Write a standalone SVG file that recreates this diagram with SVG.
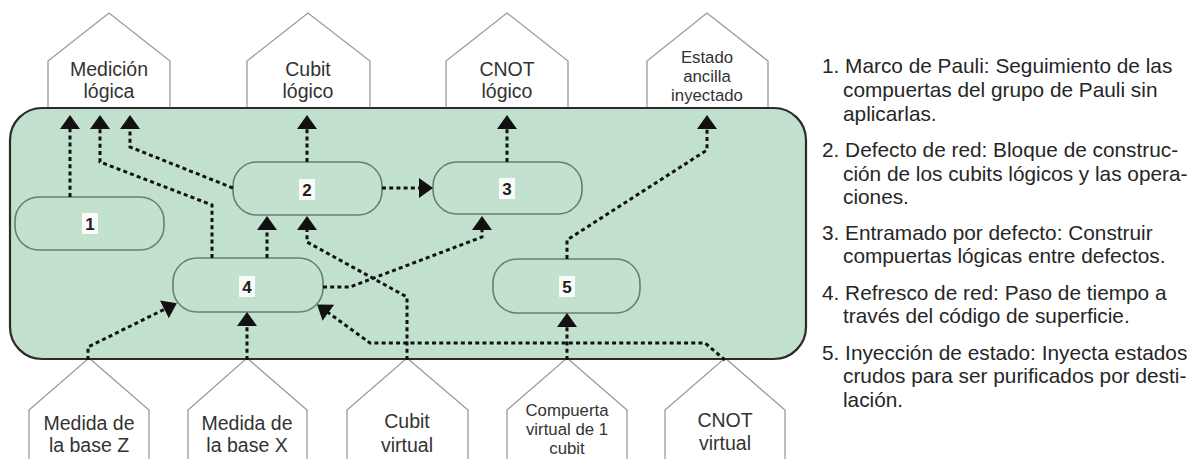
<svg xmlns="http://www.w3.org/2000/svg" width="1202" height="459" viewBox="0 0 1202 459">
<style>
.house{fill:#ffffff;stroke:#9a9a9a;stroke-width:1.3}
.ht{font-family:"Liberation Sans",Arial,sans-serif;font-size:19.5px;fill:#333;text-anchor:middle}
.ht3{font-family:"Liberation Sans",Arial,sans-serif;font-size:16.8px;fill:#333;text-anchor:middle}
.node{fill:#c3e1cf;stroke:#687f70;stroke-width:1.6}
.lbl{fill:#fbfbfb}
.num{font-family:"Liberation Sans",Arial,sans-serif;font-size:17px;font-weight:bold;fill:#222;text-anchor:middle}
.con{fill:none;stroke:#111;stroke-width:3;stroke-dasharray:4 3.2}
.leg{font-family:"Liberation Sans",Arial,sans-serif;font-size:20.8px;fill:#262626}
</style>
<defs>
<marker id="arr" viewBox="0 0 14 20" refX="3" refY="10" markerWidth="14" markerHeight="20" markerUnits="userSpaceOnUse" orient="auto">
<path d="M0,0 L14,10 L0,20 z" fill="#111"/>
</marker>
</defs>
<rect width="1202" height="459" fill="#ffffff"/>

<g id="out-medicion">
<polygon class="house" points="48,112 48,61 109,13 170,61 170,112"/>
<text class="ht" x="109" y="76">Medición</text>
<text class="ht" x="109" y="98">lógica</text>
</g>
<g id="out-cubit">
<polygon class="house" points="247,112 247,61 308,13 370,61 370,112"/>
<text class="ht" x="308" y="76">Cubit</text>
<text class="ht" x="308" y="98">lógico</text>
</g>
<g id="out-cnot">
<polygon class="house" points="446,112 446,61 507,13 568,61 568,112"/>
<text class="ht" x="507" y="76">CNOT</text>
<text class="ht" x="507" y="98">lógico</text>
</g>
<g id="out-estado">
<polygon class="house" points="647,112 647,61 707,13 768,61 768,112"/>
<text class="ht3" x="707" y="63">Estado</text>
<text class="ht3" x="707" y="82">ancilla</text>
<text class="ht3" x="707" y="101">inyectado</text>
</g>

<g id="in-z">
<polygon class="house" points="89,358 149,410 149,462 29,462 29,410"/>
<text class="ht" x="89" y="430">Medida de</text>
<text class="ht" x="89" y="452">la base Z</text>
</g>
<g id="in-x">
<polygon class="house" points="247,358 307,410 307,462 188,462 188,410"/>
<text class="ht" x="247" y="430">Medida de</text>
<text class="ht" x="247" y="452">la base X</text>
</g>
<g id="in-cubit">
<polygon class="house" points="407,358 468,410 468,462 347,462 347,410"/>
<text class="ht" x="407" y="428">Cubit</text>
<text class="ht" x="407" y="452">virtual</text>
</g>
<g id="in-compuerta">
<polygon class="house" points="567,358 627,410 627,462 507,462 507,410"/>
<text class="ht3" x="567" y="416">Compuerta</text>
<text class="ht3" x="567" y="435">virtual de 1</text>
<text class="ht3" x="567" y="454">cubit</text>
</g>
<g id="in-cnot">
<polygon class="house" points="725,358 785,410 785,462 665,462 665,410"/>
<text class="ht" x="725" y="427">CNOT</text>
<text class="ht" x="725" y="450">virtual</text>
</g>

<g id="container">
<rect x="10" y="108" width="796" height="251" rx="32" ry="32" fill="#c1e0cd" stroke="#2b2b2b" stroke-width="2.2"/>
</g>

<g id="n1">
<rect class="node" x="15" y="197" width="149" height="53" rx="24"/>
<rect class="lbl" x="82" y="213" width="16" height="21"/>
<text class="num" x="90" y="230">1</text>
</g>
<g id="n2">
<rect class="node" x="233" y="162" width="149" height="53" rx="24"/>
<rect class="lbl" x="299" y="179" width="16" height="21"/>
<text class="num" x="307" y="196">2</text>
</g>
<g id="n3">
<rect class="node" x="433" y="162" width="149" height="52" rx="24"/>
<rect class="lbl" x="499" y="178" width="16" height="21"/>
<text class="num" x="507" y="195">3</text>
</g>
<g id="n4">
<rect class="node" x="173" y="258" width="150" height="54" rx="24"/>
<rect class="lbl" x="239" y="276" width="16" height="21"/>
<text class="num" x="247" y="293">4</text>
</g>
<g id="n5">
<rect class="node" x="493" y="259" width="147" height="54" rx="24"/>
<rect class="lbl" x="559" y="276" width="16" height="21"/>
<text class="num" x="567" y="293">5</text>
</g>

<g id="connectors">
<path class="con" marker-end="url(#arr)" d="M70,197 V126"/>
<path class="con" marker-end="url(#arr)" d="M212,258 V205 L100,162 V126"/>
<path class="con" marker-end="url(#arr)" d="M233,188 L130,147 V126"/>
<path class="con" marker-end="url(#arr)" d="M307,162 V126"/>
<path class="con" marker-end="url(#arr)" d="M507,162 V126"/>
<path class="con" marker-end="url(#arr)" d="M382,188 H422"/>
<path class="con" marker-end="url(#arr)" d="M567,259 V240 L707,150 V126"/>
<path class="con" marker-end="url(#arr)" d="M267,258 V227"/>
<path class="con" marker-end="url(#arr)" d="M407,360 V297 L307,242 V227"/>
<path class="con" marker-end="url(#arr)" d="M323,287 H350 L482,237 V227"/>
<path class="con" marker-end="url(#arr)" d="M88,360 V347 L167,308"/>
<path class="con" marker-end="url(#arr)" d="M247,360 V323"/>
<path class="con" marker-end="url(#arr)" d="M725,360 L705,343 H370 L326,311"/>
<path class="con" marker-end="url(#arr)" d="M567,360 V324"/>
</g>

<g id="legend">
<text class="leg" x="822" y="73">1. Marco de Pauli: Seguimiento de las</text>
<text class="leg" x="843" y="97">compuertas del grupo de Pauli sin</text>
<text class="leg" x="843" y="121">aplicarlas.</text>
<text class="leg" x="822" y="157">2. Defecto de red: Bloque de construc-</text>
<text class="leg" x="843" y="181">ción de los cubits lógicos y las opera-</text>
<text class="leg" x="843" y="204">ciones.</text>
<text class="leg" x="822" y="240">3. Entramado por defecto: Construir</text>
<text class="leg" x="843" y="263">compuertas lógicas entre defectos.</text>
<text class="leg" x="822" y="300">4. Refresco de red: Paso de tiempo a</text>
<text class="leg" x="843" y="323">través del código de superficie.</text>
<text class="leg" x="822" y="360">5. Inyección de estado: Inyecta estados</text>
<text class="leg" x="843" y="383">crudos para ser purificados por desti-</text>
<text class="leg" x="843" y="407">lación.</text>
</g>
</svg>
